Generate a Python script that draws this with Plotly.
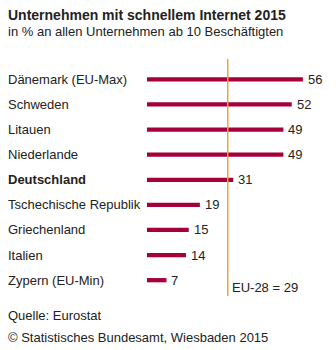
import plotly.graph_objects as go

countries = ["Dänemark (EU-Max)", "Schweden", "Litauen", "Niederlande", "Deutschland",
             "Tschechische Republik", "Griechenland", "Italien", "Zypern (EU-Min)"]
values = [56, 52, 49, 49, 31, 19, 15, 14, 7]
eu_avg = 29
title = "Unternehmen mit schnellem Internet 2015"
subtitle = "in % an allen Unternehmen ab 10 Beschäftigten"
source = "Quelle: Eurostat"
copyright_txt = "© Statistisches Bundesamt, Wiesbaden 2015"

W, H = 336, 350
T, B = 59, 54
FONT = "Liberation Sans, Arial, sans-serif"
BAR = "#A5003C"
ORANGE = "#F7A12B"
TXT = "#222"

ypos = list(range(len(countries)))

fig = go.Figure()
fig.add_trace(go.Bar(
    x=values, y=ypos, orientation="h",
    marker=dict(color=BAR, line=dict(width=0)),
    width=0.17, hoverinfo="skip",
))

x0px, x1px = 147, 314
fig.update_layout(
    width=W, height=H,
    margin=dict(l=0, r=0, t=T, b=B, pad=0),
    paper_bgcolor="white", plot_bgcolor="white",
    showlegend=False,
    xaxis=dict(range=[0, 60], domain=[x0px / W, x1px / W], visible=False, fixedrange=True),
    yaxis=dict(range=[8.63, -0.81], visible=False, fixedrange=True),
    font=dict(family=FONT, size=13, color=TXT),
)

fig.add_shape(type="line", xref="x", yref="y domain", x0=eu_avg, x1=eu_avg, y0=0, y1=1,
              line=dict(color=ORANGE, width=1.5), layer="above")

for c, v, y in zip(countries, values, ypos):
    txt = f"<b>{c}</b>" if c == "Deutschland" else c
    fig.add_annotation(xref="paper", yref="y", x=6 / W, y=y, text=txt, showarrow=False,
                       xanchor="left", yanchor="middle",
                       font=dict(family=FONT, size=13, color=TXT))
    fig.add_annotation(xref="x", yref="y", x=v, y=y, text=str(v), showarrow=False,
                       xanchor="left", yanchor="middle", xshift=3,
                       font=dict(family=FONT, size=13, color=TXT))

fig.add_annotation(xref="x", yref="y", x=eu_avg, y=8.3, text=f"EU-28 = {eu_avg}",
                   showarrow=False, xanchor="left", yanchor="middle", xshift=2,
                   font=dict(family=FONT, size=13, color=TXT))


def paper_y(px):
    return (H - B - px) / (H - T - B)


fig.add_annotation(xref="paper", yref="paper", x=6 / W, y=paper_y(15), yanchor="middle", xanchor="left",
                   text=f"<b>{title}</b>", showarrow=False,
                   font=dict(family=FONT, size=14, color=TXT))
fig.add_annotation(xref="paper", yref="paper", x=6 / W, y=paper_y(31), yanchor="middle", xanchor="left",
                   text=subtitle, showarrow=False,
                   font=dict(family=FONT, size=13, color=TXT))
fig.add_annotation(xref="paper", yref="paper", x=6 / W, y=paper_y(315), yanchor="middle", xanchor="left",
                   text=source, showarrow=False, font=dict(family=FONT, size=13, color=TXT))
fig.add_annotation(xref="paper", yref="paper", x=6 / W, y=paper_y(337), yanchor="middle", xanchor="left",
                   text=copyright_txt, showarrow=False, font=dict(family=FONT, size=13, color=TXT))

fig.write_html("out.html")
